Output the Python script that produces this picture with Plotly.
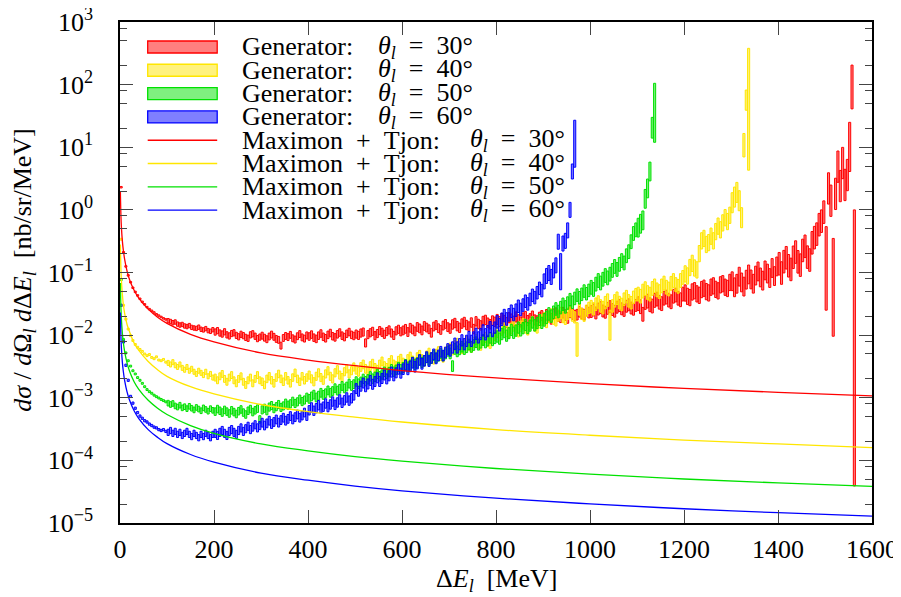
import plotly.graph_objects as go

# ---------------- data ----------------
BIN = 5.0  # MeV bin width of the generator histograms

red_vals = [
    2.3, 0.21, 0.125, 0.09, 0.07, 0.057, 0.049, 0.043, 0.038, 0.034, 0.031, 0.028, 0.026, 0.0245, 0.023, 0.0215, 0.0205, 0.0195, 0.0185, 0.0178,
    0.017, 0.0165, 0.0158, 0.0162, 0.015, 0.0145, 0.0148, 0.014, 0.0137, 0.0142, 0.0133, 0.013, 0.0128, 0.0134, 0.0124, 0.0121, 0.0127, 0.0118, 0.0115, 0.0122,
    0.0112, 0.0118, 0.0108, 0.0104, 0.0113, 0.0101, 0.0097, 0.0106, 0.0109, 0.0099, 0.0094, 0.0103, 0.0098, 0.0092, 0.0089, 0.0101, 0.0105, 0.0096, 0.0088, 0.0093,
    0.0098, 0.0091, 0.0086, 0.0095, 0.0102, 0.0094, 0.0087, 0.0084, 0.0068, 0.009, 0.0097, 0.0093, 0.0101, 0.0089, 0.0085, 0.0096, 0.0104, 0.0092, 0.0088, 0.0099,
    0.0095, 0.0102, 0.0091, 0.0087, 0.0098, 0.0106, 0.0094, 0.0089, 0.0101, 0.0108, 0.0096, 0.0092, 0.0103, 0.011, 0.0098, 0.0093, 0.0105, 0.0112, 0.0101, 0.0097,
    0.0104, 0.0099, 0.0108, 0.0112, 0.0075, 0.0102, 0.0109, 0.0115, 0.0098, 0.0106, 0.0118, 0.0111, 0.0103, 0.0114, 0.0121, 0.0108, 0.0099, 0.0117, 0.0124, 0.0113,
    0.0119, 0.0126, 0.0112, 0.0131, 0.0123, 0.0115, 0.0135, 0.0128, 0.0119, 0.014, 0.0132, 0.0124, 0.0109, 0.0137, 0.0145, 0.0129, 0.0121, 0.0142, 0.0151, 0.0134,
    0.0127, 0.0148, 0.0156, 0.0139, 0.0131, 0.0153, 0.0162, 0.0145, 0.0137, 0.0159, 0.0125, 0.0166, 0.0151, 0.0143, 0.0168, 0.0175, 0.0158, 0.0149, 0.0171, 0.0163,
    0.0178, 0.0164, 0.0185, 0.0172, 0.0158, 0.019, 0.0181, 0.0167, 0.0195, 0.0176, 0.0162, 0.0188, 0.0199, 0.0171, 0.0183, 0.0202, 0.0175, 0.0169, 0.0193, 0.0205,
    0.0186, 0.0211, 0.0197, 0.0182, 0.0215, 0.0224, 0.0201, 0.0193, 0.0228, 0.0209, 0.0188, 0.0232, 0.0218, 0.0205, 0.0212, 0.0236, 0.0221, 0.0212, 0.0245, 0.0229,
    0.0238, 0.0252, 0.0226, 0.0261, 0.0274, 0.0243, 0.0232, 0.0268, 0.0285, 0.0256, 0.0241, 0.0279, 0.0296, 0.0263, 0.0248, 0.0289, 0.0305, 0.0271, 0.0259, 0.0298,
    0.0318, 0.0284, 0.0215, 0.0332, 0.0349, 0.0306, 0.0291, 0.0358, 0.0376, 0.0335, 0.0318, 0.0389, 0.0405, 0.0362, 0.0341, 0.0418, 0.0436, 0.0388, 0.0367, 0.0452,
    0.0471, 0.0415, 0.0398, 0.0489, 0.0512, 0.0456, 0.0432, 0.0534, 0.0561, 0.0495, 0.0472, 0.0583, 0.0612, 0.0538, 0.0509, 0.0635, 0.0662, 0.0582, 0.0556, 0.0694,
    0.0725, 0.058, 0.0661, 0.0858, 0.0694, 0.0595, 0.0768, 0.0932, 0.0775, 0.0662, 0.0893, 0.104, 0.0835, 0.0741, 0.108, 0.0962, 0.0815, 0.118, 0.0876, 0.125,
    0.138, 0.098, 0.149, 0.172, 0.128, 0.112, 0.175, 0.212, 0.148, 0.131, 0.225, 0.262, 0.176, 0.158, 0.298, 0.36, 0.41, 0.58, 0.66, 0.92,
    0.12, 2.2, 1.4, 0.06, 1.8, 4.9, 2.4, 5.6, 2.5, 3.6, 10, 90, 0.01,
]
red_err = [0.012, 0.035, 0.05, 0.055, 0.06, 0.065, 0.07, 0.075, 0.08, 0.085, 0.095, 0.11, 0.13, 0.15, 0.18, 0.25]
red_override = {300: (0.025, 0.54), 303: (0.0096, 0.35), 310: (4.1, 25), 311: (41, 205), 312: (3.9e-5, 1.0)}

yellow_vals = [
    0.34, 0.03, 0.018, 0.0125, 0.0098, 0.0082, 0.0071, 0.0064, 0.0059, 0.0055, 0.005, 0.0047, 0.0049, 0.0044, 0.0042, 0.0045, 0.004, 0.0039, 0.0041, 0.0037,
    0.0036, 0.0034, 0.0037, 0.0033, 0.0031, 0.0034, 0.003, 0.0028, 0.0031, 0.0027, 0.0029, 0.0026, 0.0024, 0.0027, 0.0025, 0.0023, 0.0026, 0.0022, 0.0024, 0.0021,
    0.0021, 0.0019, 0.0022, 0.0024, 0.002, 0.0018, 0.0021, 0.0023, 0.0019, 0.0017, 0.002, 0.0022, 0.0018, 0.0016, 0.0019, 0.0021, 0.0017, 0.002, 0.0023, 0.0019,
    0.0018, 0.0016, 0.002, 0.0022, 0.0019, 0.0017, 0.0021, 0.0024, 0.002, 0.0018, 0.0022, 0.0019, 0.0017, 0.0021, 0.0025, 0.002, 0.0018, 0.0022, 0.0019, 0.0021,
    0.0023, 0.002, 0.0018, 0.0022, 0.0025, 0.0021, 0.0019, 0.0024, 0.0027, 0.0022, 0.002, 0.0025, 0.0028, 0.0023, 0.0021, 0.0026, 0.0029, 0.0024, 0.0027, 0.0031,
    0.0028, 0.0026, 0.0031, 0.0034, 0.0029, 0.0027, 0.0032, 0.0035, 0.003, 0.0028, 0.0034, 0.0038, 0.0032, 0.003, 0.0036, 0.004, 0.0034, 0.0032, 0.0039, 0.0042,
    0.0036, 0.0034, 0.0041, 0.0045, 0.0039, 0.0036, 0.0044, 0.0048, 0.0041, 0.0038, 0.0047, 0.0052, 0.0044, 0.0041, 0.005, 0.0055, 0.0047, 0.0044, 0.0054, 0.0059,
    0.0062, 0.0058, 0.0068, 0.0074, 0.0065, 0.0061, 0.0072, 0.0079, 0.0069, 0.0064, 0.0077, 0.0085, 0.0074, 0.0069, 0.0083, 0.0092, 0.0079, 0.0074, 0.0089, 0.0099,
    0.0112, 0.0098, 0.0121, 0.0132, 0.0115, 0.0108, 0.0128, 0.0141, 0.0122, 0.0114, 0.0138, 0.0152, 0.0131, 0.0122, 0.0148, 0.0163, 0.014, 0.0131, 0.0158, 0.0174,
    0.0185, 0.0162, 0.0196, 0.0214, 0.0183, 0.0172, 0.0205, 0.0226, 0.0194, 0.0182, 0.0218, 0.0241, 0.0205, 0.0192, 0.0085, 0.0256, 0.0218, 0.0204, 0.0245, 0.0272,
    0.0285, 0.0262, 0.0312, 0.0338, 0.0292, 0.0275, 0.033, 0.0362, 0.0145, 0.0292, 0.0352, 0.0388, 0.0331, 0.0309, 0.0375, 0.0412, 0.0352, 0.0329, 0.0401, 0.0442,
    0.0452, 0.0418, 0.0505, 0.0552, 0.0478, 0.0451, 0.0556, 0.0612, 0.0528, 0.0495, 0.0611, 0.0678, 0.0582, 0.0545, 0.0672, 0.0745, 0.0642, 0.0601, 0.0745, 0.0835,
    0.095, 0.088, 0.12, 0.14, 0.118, 0.11, 0.2, 0.32, 0.35, 0.28, 0.3, 0.38, 0.32, 0.45, 0.55, 0.48, 0.62, 0.75, 0.65, 0.82,
    1.3, 1.6, 1.9, 1.4, 0.75, 10.8, 56, 40,
]
yellow_err = [0.015, 0.04, 0.055, 0.06, 0.065, 0.07, 0.075, 0.08, 0.085, 0.09, 0.1, 0.11, 0.13, 0.16]
yellow_override = {194: (0.0046, 0.0158), 208: (0.0083, 0.025), 265: (7.0, 16.6), 266: (39, 82), 267: (4.3, 380)}

green_vals = [
    0.077, 0.0085, 0.0052, 0.0039, 0.0032, 0.0027, 0.0024, 0.0021, 0.0019, 0.0017, 0.0015, 0.00135, 0.00125, 0.00118, 0.0011, 0.00104, 0.00099, 0.00094, 0.0009, 0.00086,
    0.00082, 0.00078, 0.00081, 0.00074, 0.00071, 0.00076, 0.00069, 0.00072, 0.00067, 0.00073, 0.00068, 0.00064, 0.0007, 0.00066, 0.00062, 0.00069, 0.00065, 0.00061, 0.00067, 0.00063,
    0.0006, 0.00066, 0.00062, 0.00058, 0.00064, 0.0006, 0.00056, 0.00063, 0.00059, 0.00055, 0.00061, 0.00065, 0.00058, 0.00054, 0.00062, 0.00066, 0.00059, 0.00063, 0.00067, 0.00045,
    0.00064, 0.00068, 0.00062, 0.00071, 0.00075, 0.00067, 0.00072, 0.00078, 0.0007, 0.00074, 0.00082, 0.00076, 0.0008, 0.00088, 0.00081, 0.00086, 0.00095, 0.00087, 0.00092, 0.00102,
    0.00096, 0.00105, 0.00112, 0.00101, 0.00108, 0.0012, 0.00111, 0.00118, 0.00131, 0.0012, 0.00128, 0.00142, 0.0013, 0.00139, 0.00154, 0.00141, 0.00151, 0.00168, 0.00154, 0.00165,
    0.00182, 0.00168, 0.0018, 0.002, 0.00184, 0.00197, 0.0022, 0.00202, 0.00216, 0.0024, 0.0022, 0.00235, 0.0026, 0.0024, 0.00257, 0.00285, 0.0026, 0.0028, 0.0031, 0.00284,
    0.00305, 0.0034, 0.0031, 0.00332, 0.0037, 0.00338, 0.00362, 0.004, 0.00366, 0.00392, 0.00435, 0.00398, 0.00426, 0.00472, 0.00432, 0.00462, 0.00512, 0.00468, 0.00502, 0.00555,
    0.0051, 0.0032, 0.00602, 0.0055, 0.00592, 0.00652, 0.00598, 0.0064, 0.00708, 0.00648, 0.00695, 0.0077, 0.00702, 0.00755, 0.00835, 0.00762, 0.0082, 0.00905, 0.00825, 0.0089,
    0.0095, 0.0088, 0.0104, 0.0112, 0.0098, 0.0108, 0.0121, 0.0109, 0.0118, 0.0132, 0.0119, 0.0129, 0.0145, 0.013, 0.0142, 0.0159, 0.0143, 0.0156, 0.0175, 0.0157,
    0.0175, 0.0192, 0.0218, 0.0201, 0.0232, 0.0262, 0.0238, 0.0275, 0.031, 0.0282, 0.0325, 0.0368, 0.0335, 0.0385, 0.0435, 0.0395, 0.0448, 0.0505, 0.0458, 0.0518,
    0.058, 0.0535, 0.0652, 0.0745, 0.068, 0.078, 0.0895, 0.082, 0.094, 0.108, 0.125, 0.112, 0.135, 0.155, 0.142, 0.185, 0.215, 0.31, 0.42, 0.48,
    0.52, 0.6, 0.68, 1.5, 2.2, 4.1, 20, 35,
]
green_err = [0.015, 0.045, 0.06, 0.065, 0.07, 0.075, 0.08, 0.085, 0.09, 0.1, 0.11, 0.15]
green_override = {226: (14, 30), 227: (12, 105)}

blue_vals = [
    0.03, 0.0078, 0.0033, 0.0019, 0.00105, 0.00082, 0.00068, 0.00058, 0.00051, 0.00047, 0.00043, 0.00041, 0.00038, 0.00036, 0.00034, 0.00033, 0.00031, 0.0003, 0.00031, 0.00029,
    0.00028, 0.0003, 0.00027, 0.00029, 0.00026, 0.00028, 0.00025, 0.00027, 0.00029, 0.00026, 0.00024, 0.00027, 0.00025, 0.00023, 0.00026, 0.00024, 0.00027, 0.00025, 0.00023, 0.00026,
    0.00027, 0.00025, 0.00028, 0.0003, 0.00027, 0.00025, 0.00029, 0.00031, 0.00028, 0.00026, 0.0003, 0.00033, 0.00029, 0.00032, 0.00035, 0.00031, 0.00034, 0.00037, 0.00033, 0.00036,
    0.0004, 0.00036, 0.00039, 0.00043, 0.00038, 0.00041, 0.00045, 0.0004, 0.00044, 0.00048, 0.00043, 0.00046, 0.00051, 0.00045, 0.00049, 0.00054, 0.00048, 0.00052, 0.00058, 0.00051,
    0.00063, 0.0007, 0.00062, 0.00068, 0.00076, 0.00067, 0.00072, 0.00081, 0.00071, 0.00078, 0.00087, 0.00077, 0.00084, 0.00094, 0.00083, 0.00091, 0.00101, 0.0009, 0.00098, 0.00109,
    0.0014, 0.00127, 0.00153, 0.00172, 0.0015, 0.00166, 0.00189, 0.00164, 0.00182, 0.00208, 0.00182, 0.00203, 0.00231, 0.002, 0.00224, 0.00257, 0.00224, 0.0025, 0.00286, 0.00247,
    0.00286, 0.00327, 0.00284, 0.00317, 0.00362, 0.00313, 0.00351, 0.00402, 0.00348, 0.00389, 0.00446, 0.00385, 0.00432, 0.00493, 0.00425, 0.00475, 0.00543, 0.0047, 0.00527, 0.00601,
    0.00567, 0.00635, 0.00729, 0.00635, 0.00716, 0.00824, 0.00716, 0.0081, 0.00932, 0.0081, 0.00918, 0.0105, 0.00918, 0.0104, 0.0119, 0.0103, 0.0116, 0.0134, 0.0116, 0.0132,
    0.0163, 0.0146, 0.0179, 0.0205, 0.0181, 0.0211, 0.0241, 0.0213, 0.025, 0.0289, 0.0257, 0.0302, 0.0348, 0.0315, 0.0371, 0.0432, 0.0397, 0.0475, 0.0559, 0.0514,
    0.072, 0.088, 0.098, 0.085, 0.108, 0.13, 0.31, 0.1, 0.29, 0.32, 0.47, 1.0, 4.1, 11,
]
blue_err = [0.018, 0.05, 0.065, 0.07, 0.075, 0.08, 0.085, 0.09, 0.1, 0.12]
blue_override = {187: (0.053, 0.2), 193: (4.8, 27)}

# Maximon + Tjon curves
curve_x = [0.8, 1, 2, 3, 5, 7, 10, 15, 20, 30, 40, 60, 80, 100, 150, 200, 300, 400, 500, 600, 800, 1000, 1200, 1400, 1600]
curve_red = [2.0, 1.6, 0.8, 0.53, 0.32, 0.23, 0.16, 0.105, 0.078, 0.052, 0.039, 0.026, 0.0193, 0.0154, 0.0103, 0.0078, 0.0052, 0.004, 0.00325, 0.00272, 0.00207, 0.00168, 0.00141, 0.00122, 0.00107]
curve_yellow = [0.28, 0.225, 0.112, 0.075, 0.045, 0.031, 0.022, 0.0148, 0.0115, 0.0075, 0.0057, 0.0038, 0.0028, 0.0022, 0.0015, 0.00115, 0.00078, 0.0006, 0.00049, 0.00041, 0.00031, 0.000252, 0.000211, 0.000183, 0.00016]
curve_green = [0.068, 0.054, 0.027, 0.018, 0.0108, 0.0077, 0.0054, 0.0036, 0.0027, 0.0018, 0.00136, 0.00091, 0.00068, 0.00054, 0.00036, 0.00027, 0.000183, 0.000142, 0.000115, 0.0000975, 0.0000742, 0.0000602, 0.0000504, 0.0000437, 0.0000384]
curve_blue = [0.023, 0.0185, 0.0093, 0.0062, 0.0037, 0.00265, 0.00186, 0.00124, 0.00093, 0.00062, 0.000465, 0.00031, 0.000233, 0.000185, 0.000124, 0.0000935, 0.0000625, 0.0000482, 0.0000389, 0.0000327, 0.0000249, 0.0000202, 0.0000169, 0.0000146, 0.0000129]

angles = ["30", "40", "50", "60"]
x_ticks = [0, 200, 400, 600, 800, 1000, 1200, 1400, 1600]
y_ticks = [1e-5, 1e-4, 1e-3, 1e-2, 1e-1, 1e0, 1e1, 1e2, 1e3]
y_ticktext = ["10<sup>−5</sup>", "10<sup>−4</sup>", "10<sup>−3</sup>", "10<sup>−2</sup>", "10<sup>−1</sup>",
              "10<sup>0</sup>", "10<sup>1</sup>", "10<sup>2</sup>", "10<sup>3</sup>"]
y_minor = [m * 10.0 ** k for k in range(-5, 3) for m in (2, 5, 8)]

# ---------------- styling ----------------
FONT = "Liberation Serif, DejaVu Serif, serif"
NB = "\u00a0"
colors = {
    "red": ("rgb(255,0,0)", "rgba(255,0,0,0.5)"),
    "yellow": ("rgb(255,230,0)", "rgba(255,230,0,0.5)"),
    "green": ("rgb(0,225,0)", "rgba(0,225,0,0.5)"),
    "blue": ("rgb(0,0,255)", "rgba(0,0,255,0.5)"),
}


def hist_bars(vals, err, over):
    xs, lo, size = [], [], []
    for i, v in enumerate(vals):
        xc = (i + 0.5) * BIN
        if i in over:
            a, b = over[i]
        else:
            e = err[min(int(xc // 100), len(err) - 1)]
            a, b = v * 10 ** (-e), v * 10 ** e
        xs.append(xc)
        lo.append(a)
        size.append(b - a)
    return xs, lo, size


fig = go.Figure()
series = [("red", red_vals, red_err, red_override),
          ("yellow", yellow_vals, yellow_err, yellow_override),
          ("green", green_vals, green_err, green_override),
          ("blue", blue_vals, blue_err, blue_override)]
for (name, vals, err, over), ang in zip(series, angles):
    xs, lo, size = hist_bars(vals, err, over)
    lc, fc = colors[name]
    fig.add_trace(go.Bar(x=xs, y=size, base=lo, width=[BIN * 0.88] * len(xs),
                         marker=dict(color=fc, line=dict(color=lc, width=1)),
                         name=f"Generator: θ = {ang}°", hoverinfo="skip", showlegend=False))

for (name, cy), ang in zip([("red", curve_red), ("yellow", curve_yellow), ("green", curve_green), ("blue", curve_blue)], angles):
    fig.add_trace(go.Scatter(x=curve_x, y=cy, mode="lines", line=dict(color=colors[name][0], width=1.3, shape="spline"),
                             name=f"Maximon + Tjon: θ = {ang}°", hoverinfo="skip", showlegend=False))

# ---- manual legend (wide key boxes as in the original) ----
# page is drawn with an 8px body margin, so the figure is offset by (8, 8)
OFF = 8
L, R, T, B = 120.3, 872.3, 21.7, 523.0
def px(x):
    return (x - L) / (R - L)
def py(y):
    return (B - y) / (B - T)

shapes, annots = [], []
row_y = [46.7, 70.0, 93.3, 116.7, 140.0, 163.3, 186.7, 210.0]
names = ["Generator:"] * 4 + [f"Maximon{NB}{NB}+{NB}{NB}Tjon:"] * 4
math_x = [376.7] * 4 + [468.0] * 4
keys = ["red", "yellow", "green", "blue"] * 2
LEG = 26
for i, (ry, nm, mx, k, ang) in enumerate(zip(row_y, names, math_x, keys, angles * 2)):
    lc, fc = colors[k]
    if i < 4:
        shapes.append(dict(type="rect", xref="paper", yref="paper", x0=px(148), x1=px(217.5),
                           y0=py(ry + 6), y1=py(ry - 6), fillcolor=fc, line=dict(color=lc, width=1.3)))
    else:
        shapes.append(dict(type="line", xref="paper", yref="paper", x0=px(148), x1=px(217.5),
                           y0=py(ry), y1=py(ry), line=dict(color=lc, width=1.3)))
    annots.append(dict(xref="paper", yref="paper", x=px(240), y=py(ry), xanchor="left", yanchor="middle",
                       text=nm, showarrow=False, font=dict(family=FONT, size=LEG, color="black")))
    annots.append(dict(xref="paper", yref="paper", x=px(mx), y=py(ry), xanchor="left", yanchor="middle",
                       text=f"<i>θ<sub>l</sub></i>{NB}{NB}={NB}{NB}{ang}°", showarrow=False,
                       font=dict(family=FONT, size=LEG, color="black")))

annots.append(dict(xref="paper", yref="paper", x=px(497), y=py(580), xanchor="center", yanchor="middle",
                   text=f"Δ<i>E<sub>l</sub></i>{NB}{NB}[MeV]", showarrow=False, font=dict(family=FONT, size=26, color="black")))
annots.append(dict(xref="paper", yref="paper", x=px(24), y=py(270), xanchor="center", yanchor="middle", textangle=-90,
                   text=f"<i>dσ</i>{NB}/{NB}<i>d</i>Ω<sub><i>l</i></sub>{NB}<i>d</i>Δ<i>E<sub>l</sub></i>{NB}{NB}[nb/sr/MeV]",
                   showarrow=False, font=dict(family=FONT, size=26, color="black")))

fig.update_layout(
    width=901 - OFF, height=597 - OFF,
    margin=dict(l=120 - OFF, r=29, t=22 - OFF, b=74, autoexpand=False),
    paper_bgcolor="white", plot_bgcolor="white",
    barmode="overlay", showlegend=False,
    font=dict(family=FONT, size=26, color="black"),
    shapes=shapes, annotations=annots,
    xaxis=dict(range=[0, 1600], tickvals=x_ticks, ticks="inside", ticklen=13, tickcolor="#444", tickwidth=1,
               showline=True, linecolor="black", linewidth=1.5, mirror="allticks", showgrid=False, zeroline=False,
               tickfont=dict(family=FONT, size=26), ticklabelstandoff=2, automargin=False,
               ticklabeloverflow="allow"),
    yaxis=dict(type="log", range=[-5, 3], tickvals=y_ticks, ticktext=y_ticktext, ticks="inside", ticklen=13,
               tickcolor="#444", tickwidth=1, showline=True, linecolor="black", linewidth=1.5, mirror="allticks",
               showgrid=False, zeroline=False, tickfont=dict(family=FONT, size=26), ticklabelstandoff=20,
               automargin=False, ticklabeloverflow="allow",
               minor=dict(tickvals=y_minor, ticks="inside", ticklen=7, tickcolor="#444", tickwidth=1, showgrid=False)),
)

fig.write_html("out.html")
